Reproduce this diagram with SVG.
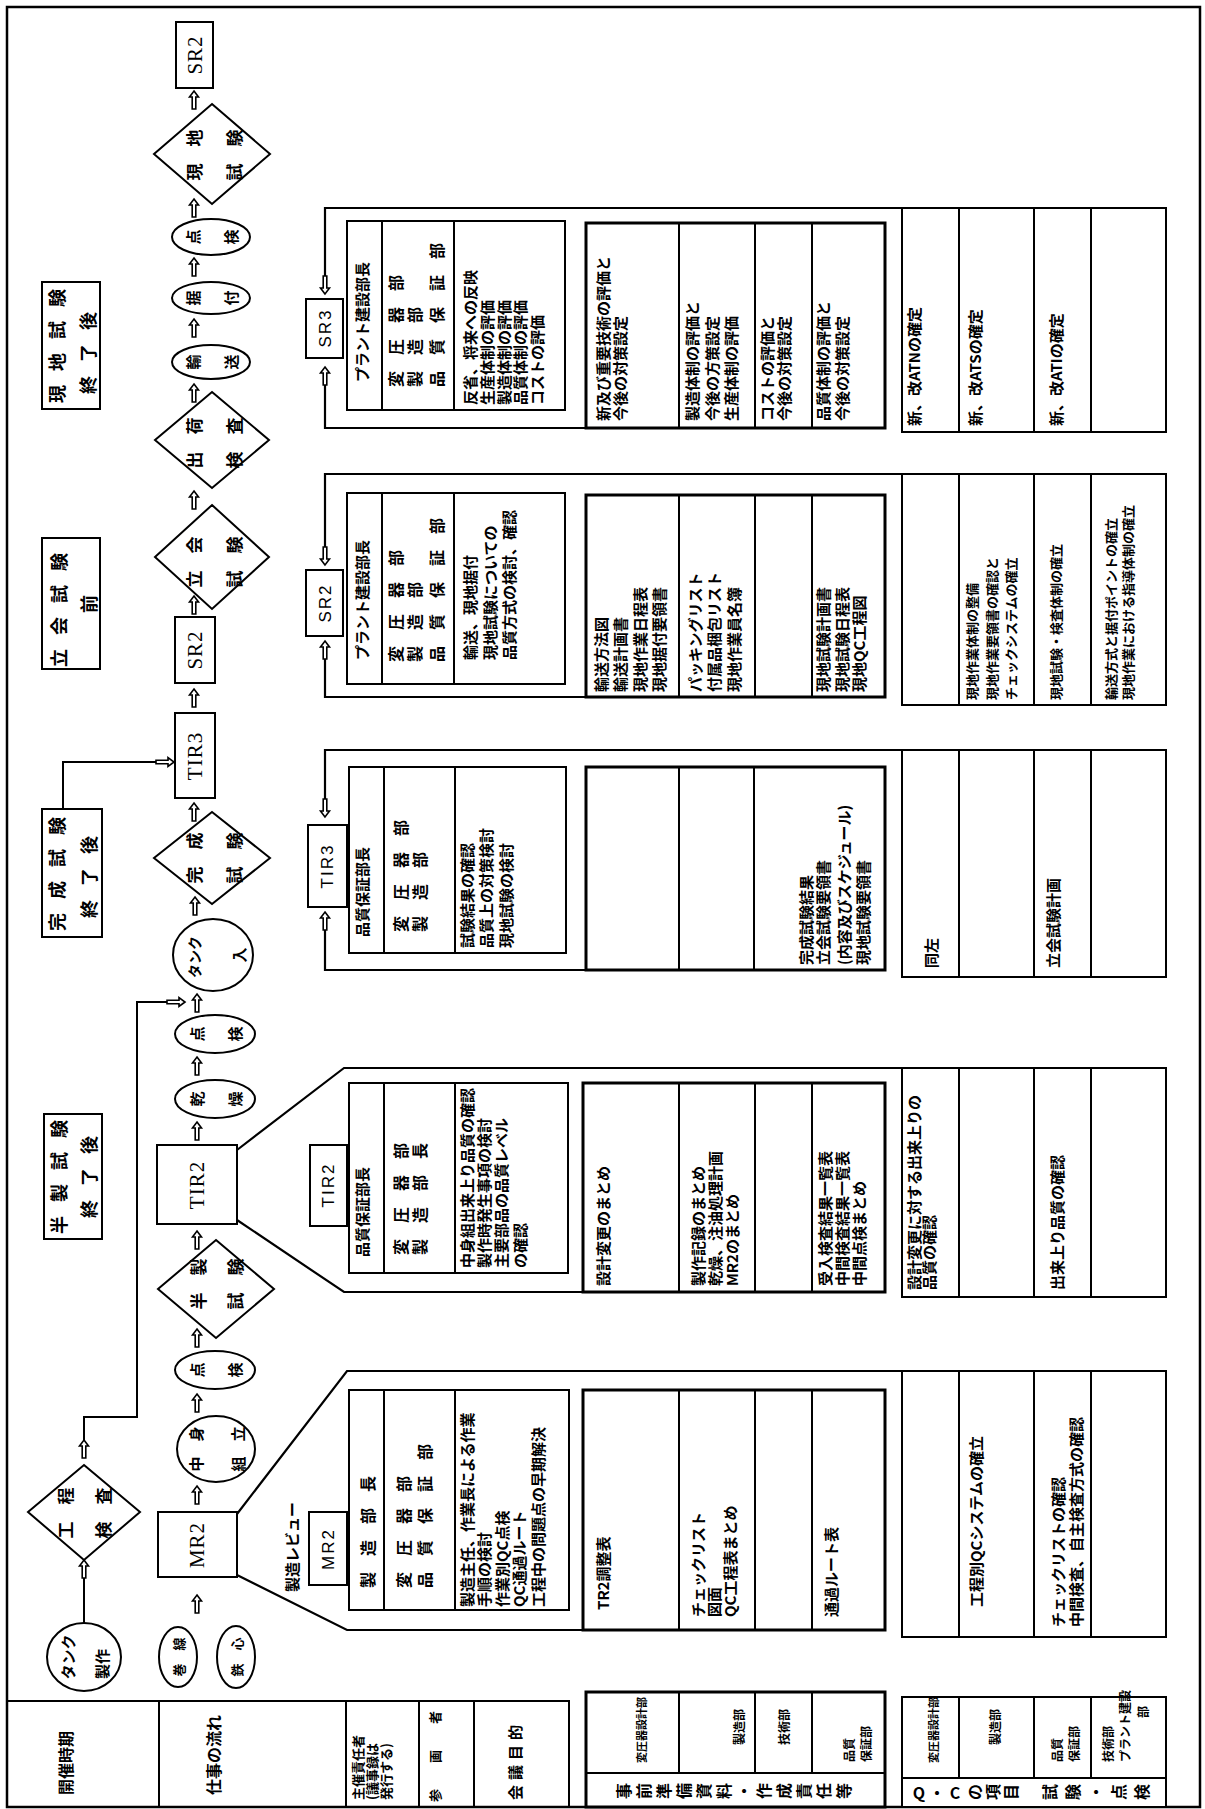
<svg xmlns="http://www.w3.org/2000/svg" width="1205" height="1809" viewBox="0 0 1205 1809">
<style>
text{font-family:"Noto Sans CJK JP","Noto Sans",sans-serif;fill:#000;dominant-baseline:central;font-size:14.5px;font-weight:bold}
.c{text-anchor:middle}
.s{font-size:13px}
.p{font-size:16px}
.d{font-size:17px}
.e{font-size:15px}
.t{font-size:18px;letter-spacing:14px}
.h{font-size:16px}
.lat{font-family:"Liberation Serif","Noto Sans CJK JP",serif;font-size:21px;letter-spacing:1px;font-weight:normal}
.hb{font-family:"Liberation Sans","Noto Sans CJK JP",sans-serif;font-size:17px;letter-spacing:2px;font-weight:normal}
.ln{fill:none;stroke:#000;stroke-width:2}
.fr{fill:none;stroke:#000;stroke-width:2.2}
.bx{fill:#fff;stroke:#000;stroke-width:2}
.tk{fill:#fff;stroke:#000;stroke-width:3}
</style>
<defs>
<path id="ar" d="M0,-9 L4.5,-3 L1.8,-3 L1.8,9 L-1.8,9 L-1.8,-3 L-4.5,-3 Z" fill="#fff" stroke="#000" stroke-width="1.6"/>
</defs>
<rect width="1205" height="1809" fill="#fff"/>
<rect x="7" y="7" width="1193" height="1800" fill="none" stroke="#000" stroke-width="2.5"/>

<g id="row-headers">
<path class="ln" d="M7,1701H569V1807M159,1701V1807M346,1701V1807M419,1701V1807M474,1701V1807"/>
<text class="h" transform="translate(65,1795) rotate(-90)">開催時期</text>
<text class="h" transform="translate(213,1795) rotate(-90)">仕事の流れ</text>
<text class="s" transform="translate(357,1800) rotate(-90)"><tspan x="0" y="0">主催責任者</tspan><tspan x="0" y="14">(議事録は</tspan><tspan x="0" y="28">発行する)</tspan></text>
<text class="s" transform="translate(434,1802) rotate(-90)">参　　画　　者</text>
<text class="e" style="letter-spacing:5px" transform="translate(514,1800) rotate(-90)">会議目的</text>
<rect class="tk" x="586" y="1692" width="299" height="115"/>
<path class="ln" d="M586,1773H885M679,1692V1773M755,1692V1773M812,1692V1773"/>
<text style="font-size:11px" transform="translate(641,1763) rotate(-90)">変圧器設計部</text>
<text style="font-size:12px" transform="translate(738,1745) rotate(-90)">製造部</text>
<text style="font-size:12px" transform="translate(783,1745) rotate(-90)">技術部</text>
<text style="font-size:12px" transform="translate(848,1762) rotate(-90)"><tspan x="0" y="0">品質</tspan><tspan x="0" y="17">保証部</tspan></text>
<text class="h c" transform="translate(623,1791) rotate(-90)"><tspan x="0" y="0">事</tspan><tspan x="0" y="20">前</tspan><tspan x="0" y="40">準</tspan><tspan x="0" y="60">備</tspan><tspan x="0" y="80">資</tspan><tspan x="0" y="100">料</tspan><tspan x="0" y="120">・</tspan><tspan x="0" y="140">作</tspan><tspan x="0" y="160">成</tspan><tspan x="0" y="180">責</tspan><tspan x="0" y="200">任</tspan><tspan x="0" y="220">等</tspan></text>
<rect class="bx" x="902" y="1697" width="264" height="110"/>
<path class="ln" d="M902,1778H1166M959,1697V1778M1034,1697V1778M1091,1697V1778"/>
<text style="font-size:11px" transform="translate(933,1763) rotate(-90)">変圧器設計部</text>
<text style="font-size:12px" transform="translate(994,1745) rotate(-90)">製造部</text>
<text style="font-size:12px" transform="translate(1056,1762) rotate(-90)"><tspan x="0" y="0">品質</tspan><tspan x="0" y="17">保証部</tspan></text>
<text style="font-size:12px" transform="translate(1107,1762) rotate(-90)"><tspan x="0" y="0">技術部</tspan><tspan x="0" y="17">プラント建設</tspan></text>
<text class="c" style="font-size:12px" transform="translate(1142,1712) rotate(-90)">部</text>
<text class="h c" x="919" y="1792">Q</text>
<text class="h c" x="937" y="1792">・</text>
<text class="h c" x="955" y="1792">C</text>
<text class="h c" transform="translate(974,1792) rotate(-90)"><tspan x="0" y="0">の</tspan><tspan x="0" y="18">項</tspan><tspan x="0" y="36">目</tspan></text>
<text class="h c" transform="translate(1049,1792) rotate(-90)"><tspan x="0" y="0">試</tspan><tspan x="0" y="23">験</tspan><tspan x="0" y="46">・</tspan><tspan x="0" y="69">点</tspan><tspan x="0" y="92">検</tspan></text>
</g>

<g id="time-labels">
<rect class="bx" x="42" y="282" width="58" height="127"/>
<text class="t" transform="translate(56,403) rotate(-90)">現地試験</text>
<text class="t" transform="translate(87,394) rotate(-90)">終了後</text>
<rect class="bx" x="42" y="538" width="58" height="131"/>
<text class="t" transform="translate(58,667) rotate(-90)">立会試験</text>
<text class="t c" style="letter-spacing:0" transform="translate(88,604) rotate(-90)">前</text>
<rect class="bx" x="42" y="809" width="60" height="128"/>
<text class="t" transform="translate(56,931) rotate(-90)">完成試験</text>
<text class="t" transform="translate(88,918) rotate(-90)">終了後</text>
<rect class="bx" x="44" y="1114" width="58" height="125"/>
<text class="t" transform="translate(58,1234) rotate(-90)">半製試験</text>
<text class="t" transform="translate(88,1218) rotate(-90)">終了後</text>
</g>

<g id="connectors">
<path class="ln" d="M84,1623V1578"/>
<use href="#ar" x="84" y="1569"/>
<use href="#ar" x="84" y="1449"/>
<path class="ln" d="M84,1440V1417H137V1002H167"/>
<use href="#ar" transform="translate(176,1002) rotate(90)"/>
<path class="ln" d="M63,809V762H156"/>
<use href="#ar" transform="translate(165,762) rotate(90)"/>
<use href="#ar" x="197" y="1604"/>
<use href="#ar" x="197" y="1495"/>
<use href="#ar" x="197" y="1403"/>
<use href="#ar" x="197" y="1338"/>
<use href="#ar" x="197" y="1240"/>
<use href="#ar" x="197" y="1131"/>
<use href="#ar" x="197" y="1066"/>
<use href="#ar" x="197" y="1003"/>
<use href="#ar" x="195" y="906"/>
<use href="#ar" x="194" y="812"/>
<use href="#ar" x="194" y="698"/>
<use href="#ar" x="194" y="605"/>
<use href="#ar" x="194" y="500"/>
<use href="#ar" x="194" y="393"/>
<use href="#ar" x="194" y="328"/>
<use href="#ar" x="194" y="267"/>
<use href="#ar" x="194" y="208"/>
<use href="#ar" x="194" y="100"/>
<path class="fr" d="M1166,750H325V799M325,930V970H885"/>
<use href="#ar" transform="translate(325,808) rotate(180)"/>
<use href="#ar" x="325" y="921"/>
<path class="fr" d="M1166,474H325V547M325,659V697H885"/>
<use href="#ar" transform="translate(325,556) rotate(180)"/>
<use href="#ar" x="325" y="650"/>
<path class="fr" d="M1166,208H325V276M325,385V428H885"/>
<use href="#ar" transform="translate(325,285) rotate(180)"/>
<use href="#ar" x="325" y="376"/>
<path class="fr" d="M237,1514L347,1371H1166M237,1575L347,1630H583"/>
<path class="fr" d="M237,1150L344,1068H1166M237,1220L344,1292H583"/>
</g>

<g id="tank-make"><ellipse class="bx" cx="84" cy="1657" rx="37" ry="34"/><text class="e c" transform="translate(67,1657) rotate(-90)">タンク</text><text class="e c" transform="translate(101,1664) rotate(-90)">製作</text></g>
<g id="koutei-kensa"><polygon class="bx" points="84,1465 140,1512 84,1560 28,1512"/><text class="d c" transform="translate(64,1513) rotate(-90)">工　程</text><text class="d c" transform="translate(102,1513) rotate(-90)">検　査</text></g>
<g id="makisen"><ellipse class="bx" cx="178" cy="1657" rx="19" ry="30"/><text class="c" style="font-size:13px" transform="translate(178,1657) rotate(-90)">巻　線</text></g>
<g id="tesshin"><ellipse class="bx" cx="236" cy="1657" rx="19" ry="31"/><text class="c" style="font-size:13px" transform="translate(236,1657) rotate(-90)">鉄　心</text></g>
<g id="mr2"><rect class="bx" x="158" y="1512" width="79" height="65"/><text class="lat c" transform="translate(197,1545) rotate(-90)">MR2</text></g>
<g id="nakami-kumitate"><ellipse class="bx" cx="216" cy="1449" rx="39" ry="33"/><text class="e c" transform="translate(195,1449) rotate(-90)">中　身</text><text class="e c" transform="translate(237,1449) rotate(-90)">組　立</text></g>
<g id="tenken-1"><ellipse class="bx" cx="215" cy="1370" rx="40" ry="19"/><text class="e c" transform="translate(196,1370) rotate(-90)">点</text><text class="e c" transform="translate(234,1370) rotate(-90)">検</text></g>
<g id="hansei-shiken"><polygon class="bx" points="216,1240 274,1289 216,1338 158,1289"/><text class="d c" transform="translate(197,1284) rotate(-90)">半　製</text><text class="d c" transform="translate(234,1284) rotate(-90)">試　験</text></g>
<g id="tir2"><rect class="bx" x="157" y="1145" width="80" height="79"/><text class="lat c" transform="translate(197,1185) rotate(-90)">TIR2</text></g>
<g id="kansou"><ellipse class="bx" cx="215" cy="1099" rx="40" ry="19"/><text class="e c" transform="translate(196,1099) rotate(-90)">乾</text><text class="e c" transform="translate(234,1099) rotate(-90)">燥</text></g>
<g id="tenken-2"><ellipse class="bx" cx="215" cy="1034" rx="40" ry="19"/><text class="e c" transform="translate(196,1034) rotate(-90)">点</text><text class="e c" transform="translate(234,1034) rotate(-90)">検</text></g>
<g id="tank-in"><ellipse class="bx" cx="213" cy="955" rx="40" ry="36"/><text class="c" style="font-size:14px" transform="translate(194,957) rotate(-90)">タンク</text><text class="e c" transform="translate(238,955) rotate(-90)">入</text></g>
<g id="kansei-shiken"><polygon class="bx" points="212,812 270,858 212,904 154,858"/><text class="d c" transform="translate(193,858) rotate(-90)">完　成</text><text class="d c" transform="translate(233,858) rotate(-90)">試　験</text></g>
<g id="tir3"><rect class="bx" x="175" y="713" width="40" height="85"/><text class="lat c" transform="translate(195,756) rotate(-90)">TIR3</text></g>
<g id="sr2-a"><rect class="bx" x="175" y="617" width="40" height="66"/><text class="lat c" transform="translate(195,650) rotate(-90)">SR2</text></g>
<g id="tachiai-shiken"><polygon class="bx" points="212,505 269,557 212,609 155,557"/><text class="d c" transform="translate(193,562) rotate(-90)">立　会</text><text class="d c" transform="translate(233,562) rotate(-90)">試　験</text></g>
<g id="shukka-kensa"><polygon class="bx" points="212,392 269,440 212,488 155,440"/><text class="d c" transform="translate(193,443) rotate(-90)">出　荷</text><text class="d c" transform="translate(233,443) rotate(-90)">検　査</text></g>
<g id="yusou"><ellipse class="bx" cx="211" cy="362" rx="39" ry="17"/><text class="e c" transform="translate(192,362) rotate(-90)">輸</text><text class="e c" transform="translate(230,362) rotate(-90)">送</text></g>
<g id="suetsuke"><ellipse class="bx" cx="211" cy="298" rx="39" ry="16"/><text class="e c" transform="translate(192,298) rotate(-90)">据</text><text class="e c" transform="translate(230,298) rotate(-90)">付</text></g>
<g id="tenken-3"><ellipse class="bx" cx="211" cy="237" rx="39" ry="18"/><text class="e c" transform="translate(192,237) rotate(-90)">点</text><text class="e c" transform="translate(230,237) rotate(-90)">検</text></g>
<g id="genchi-shiken"><polygon class="bx" points="212,104 270,154 212,204 154,154"/><text class="d c" transform="translate(193,155) rotate(-90)">現　地</text><text class="d c" transform="translate(233,155) rotate(-90)">試　験</text></g>
<g id="sr2-b"><rect class="bx" x="176" y="22" width="37" height="66"/><text class="lat c" transform="translate(195,55) rotate(-90)">SR2</text></g>

<g id="mr2-review">
<rect class="bx" x="309" y="1512" width="38" height="73"/>
<text class="hb c" transform="translate(328,1549) rotate(-90)">MR2</text>
<text class="e" transform="translate(291,1592) rotate(-90)">製造レビュー</text>
<rect class="bx" x="349" y="1390" width="220" height="220"/>
<path class="ln" d="M384,1390V1610M455,1390V1610"/>
<text class="p" transform="translate(367,1588) rotate(-90)">製　造　部　長</text>
<text class="p" transform="translate(403,1588) rotate(-90)"><tspan x="0" y="0">変　圧　器　部</tspan><tspan x="0" y="21">品　質　保　証　部</tspan></text>
<text class="e" transform="translate(466,1607) rotate(-90)"><tspan x="0" y="0">製造主任、作業長による作業</tspan><tspan x="0" y="17">手順の検討</tspan><tspan x="0" y="35">作業別QC点検</tspan><tspan x="0" y="52">QC通過ルート</tspan><tspan x="0" y="71">工程中の問題点の早期解決</tspan></text>
<rect class="tk" x="583" y="1390" width="302" height="240"/>
<path class="ln" d="M679,1390V1630M755,1390V1630M812,1390V1630"/>
<text class="e" transform="translate(602,1610) rotate(-90)">TR2調整表</text>
<text class="e" transform="translate(697,1617) rotate(-90)"><tspan x="0" y="0">チェックリスト</tspan><tspan x="0" y="16">図面</tspan><tspan x="0" y="32">QC工程表まとめ</tspan></text>
<text class="e" transform="translate(830,1617) rotate(-90)">通過ルート表</text>
<rect class="bx" x="902" y="1371" width="264" height="266"/>
<path class="ln" d="M959,1371V1637M1034,1371V1637M1091,1371V1637"/>
<text class="e" transform="translate(975,1607) rotate(-90)">工程別QCシステムの確立</text>
<text class="e" transform="translate(1057,1627) rotate(-90)"><tspan x="0" y="0">チェックリストの確認</tspan><tspan x="0" y="18">中間検査、自主検査方式の確認</tspan></text>
</g>

<g id="tir2-review">
<rect class="bx" x="310" y="1145" width="37" height="81"/>
<text class="hb c" transform="translate(328,1185) rotate(-90)">TIR2</text>
<rect class="bx" x="349" y="1083" width="219" height="190"/>
<path class="ln" d="M384,1083V1273M455,1083V1273"/>
<text class="e" transform="translate(361,1257) rotate(-90)">品質保証部長</text>
<text class="p" transform="translate(400,1255) rotate(-90)"><tspan x="0" y="0">変　圧　器　部</tspan><tspan x="0" y="19">製　造　部　長</tspan></text>
<text class="e" transform="translate(466,1268) rotate(-90)"><tspan x="0" y="0">中身組出来上り品質の確認</tspan><tspan x="0" y="17">製作時発生事項の検討</tspan><tspan x="0" y="34">主要部品の品質レベル</tspan><tspan x="0" y="53">の確認</tspan></text>
<rect class="tk" x="583" y="1083" width="302" height="209"/>
<path class="ln" d="M679,1083V1292M755,1083V1292M812,1083V1292"/>
<text class="e" transform="translate(602,1286) rotate(-90)">設計変更のまとめ</text>
<text class="e" transform="translate(697,1286) rotate(-90)"><tspan x="0" y="0">製作記録のまとめ</tspan><tspan x="0" y="17">乾燥、注油処理計画</tspan><tspan x="0" y="34">MR2のまとめ</tspan></text>
<text class="e" transform="translate(824,1286) rotate(-90)"><tspan x="0" y="0">受入検査結果一覧表</tspan><tspan x="0" y="17">中間検査結果一覧表</tspan><tspan x="0" y="34">中間点検まとめ</tspan></text>
<rect class="bx" x="902" y="1068" width="264" height="229"/>
<path class="ln" d="M959,1068V1297M1034,1068V1297M1091,1068V1297"/>
<text class="e" transform="translate(913,1290) rotate(-90)"><tspan x="0" y="0">設計変更に対する出来上りの</tspan><tspan x="0" y="15">品質の確認</tspan></text>
<text class="e" transform="translate(1056,1290) rotate(-90)">出来上り品質の確認</text>
</g>

<g id="tir3-review">
<rect class="bx" x="308" y="825" width="39" height="82"/>
<text class="hb c" transform="translate(327,866) rotate(-90)">TIR3</text>
<rect class="bx" x="349" y="767" width="217" height="186"/>
<path class="ln" d="M384,767V953M455,767V953"/>
<text class="e" transform="translate(361,937) rotate(-90)">品質保証部長</text>
<text class="p" transform="translate(400,932) rotate(-90)"><tspan x="0" y="0">変　圧　器　部</tspan><tspan x="0" y="19">製　造　部</tspan></text>
<text class="e" transform="translate(466,948) rotate(-90)"><tspan x="0" y="0">試験結果の確認</tspan><tspan x="0" y="19">品質上の対策検討</tspan><tspan x="0" y="39">現地試験の検討</tspan></text>
<rect class="tk" x="586" y="767" width="299" height="203"/>
<path class="ln" d="M679,767V970M754,767V970"/>
<text class="e" transform="translate(805,965) rotate(-90)"><tspan x="0" y="0">完成試験結果</tspan><tspan x="0" y="17">立会試験要領書</tspan><tspan x="0" y="38">(内容及びスケジュール)</tspan><tspan x="0" y="57">現地試験要領書</tspan></text>
<rect class="bx" x="902" y="750" width="264" height="227"/>
<path class="ln" d="M959,750V977M1034,750V977M1091,750V977"/>
<text class="e" transform="translate(930,968) rotate(-90)">同左</text>
<text class="e" transform="translate(1052,968) rotate(-90)">立会試験計画</text>
</g>

<g id="sr2-review">
<rect class="bx" x="306" y="570" width="37" height="66"/>
<text class="hb c" transform="translate(325,603) rotate(-90)">SR2</text>
<rect class="bx" x="347" y="493" width="218" height="191"/>
<path class="ln" d="M382,493V684M454,493V684"/>
<text class="e" transform="translate(361,660) rotate(-90)">プラント建設部長</text>
<text class="p" transform="translate(395,662) rotate(-90)"><tspan x="0" y="0">変　圧　器　部</tspan><tspan x="0" y="19">製　造　部</tspan><tspan x="0" y="41">品　質　保　証　部</tspan></text>
<text class="e" transform="translate(469,660) rotate(-90)"><tspan x="0" y="0">輸送、現地据付</tspan><tspan x="0" y="20">現地試験についての</tspan><tspan x="0" y="39">品質方式の検討、確認</tspan></text>
<rect class="tk" x="586" y="495" width="299" height="202"/>
<path class="ln" d="M679,495V697M755,495V697M812,495V697"/>
<text class="e" transform="translate(600,692) rotate(-90)"><tspan x="0" y="0">輸送方法図</tspan><tspan x="0" y="19">輸送計画書</tspan><tspan x="0" y="39">現地作業日程表</tspan><tspan x="0" y="58">現地据付要領書</tspan></text>
<text class="e" transform="translate(694,692) rotate(-90)"><tspan x="0" y="0">パッキングリスト</tspan><tspan x="0" y="19">付属品梱包リスト</tspan><tspan x="0" y="39">現地作業員名簿</tspan></text>
<text class="e" transform="translate(822,692) rotate(-90)"><tspan x="0" y="0">現地試験計画書</tspan><tspan x="0" y="19">現地試験日程表</tspan><tspan x="0" y="36">現地QC工程図</tspan></text>
<rect class="bx" x="902" y="474" width="264" height="231"/>
<path class="ln" d="M959,474V705M1034,474V705M1091,474V705"/>
<text class="s" transform="translate(971,700) rotate(-90)"><tspan x="0" y="0">現地作業体制の整備</tspan><tspan x="0" y="20">現地作業要領書の確認と</tspan><tspan x="0" y="39">チェックシステムの確立</tspan></text>
<text class="s" transform="translate(1055,700) rotate(-90)">現地試験・検査体制の確立</text>
<text class="s" transform="translate(1110,700) rotate(-90)"><tspan x="0" y="0">輸送方式と据付ポイントの確立</tspan><tspan x="0" y="17">現地作業における指導体制の確立</tspan></text>
</g>

<g id="sr3-review">
<rect class="bx" x="306" y="299" width="37" height="59"/>
<text class="hb c" transform="translate(325,328) rotate(-90)">SR3</text>
<rect class="bx" x="347" y="221" width="218" height="189"/>
<path class="ln" d="M382,221V410M454,221V410"/>
<text class="e" transform="translate(361,382) rotate(-90)">プラント建設部長</text>
<text class="p" transform="translate(395,387) rotate(-90)"><tspan x="0" y="0">変　圧　器　部</tspan><tspan x="0" y="19">製　造　部</tspan><tspan x="0" y="41">品　質　保　証　部</tspan></text>
<text class="e" transform="translate(469,405) rotate(-90)"><tspan x="0" y="0">反省、将来への反映</tspan><tspan x="0" y="17">生産体制の評価</tspan><tspan x="0" y="34">製造体制の評価</tspan><tspan x="0" y="50">品質体制の評価</tspan><tspan x="0" y="67">コストの評価</tspan></text>
<rect class="tk" x="586" y="223" width="299" height="205"/>
<path class="ln" d="M679,223V428M755,223V428M812,223V428"/>
<text class="e" transform="translate(602,421) rotate(-90)"><tspan x="0" y="0">新及び重要技術の評価と</tspan><tspan x="0" y="17">今後の対策設定</tspan></text>
<text class="e" transform="translate(691,421) rotate(-90)"><tspan x="0" y="0">製造体制の評価と</tspan><tspan x="0" y="20">今後の方策設定</tspan><tspan x="0" y="39">生産体制の評価</tspan></text>
<text class="e" transform="translate(766,421) rotate(-90)"><tspan x="0" y="0">コストの評価と</tspan><tspan x="0" y="17">今後の対策設定</tspan></text>
<text class="e" transform="translate(822,421) rotate(-90)"><tspan x="0" y="0">品質体制の評価と</tspan><tspan x="0" y="19">今後の対策設定</tspan></text>
<rect class="bx" x="902" y="208" width="264" height="224"/>
<path class="ln" d="M959,208V432M1034,208V432M1091,208V432"/>
<text class="e" transform="translate(913,426) rotate(-90)">新、改ATNの確定</text>
<text class="e" transform="translate(974,426) rotate(-90)">新、改ATSの確定</text>
<text class="e" transform="translate(1055,426) rotate(-90)">新、改ATIの確定</text>
</g>
</svg>
